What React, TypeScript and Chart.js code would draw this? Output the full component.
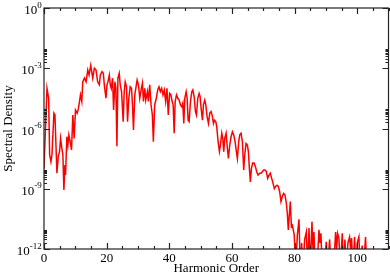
import React, { useEffect, useRef } from "react";
import { Chart, registerables } from "chart.js";

Chart.register(...registerables);

// Harmonic order (x) and spectral density (y)
const harmonic = [
  0, 0.95, 1.48, 1.8, 2.22, 2.54, 3.17, 3.49, 4.13, 4.55, 4.97, 5.29, 5.71, 6.03, 6.35, 6.67, 6.88, 7.3, 7.62, 7.94,
  8.36, 8.78, 9.21, 9.63, 10.05, 10.58, 11.0, 11.32, 11.64, 12.06, 12.38, 12.91, 13.44, 13.97, 14.39, 14.92, 15.24, 15.56, 16.08, 16.61,
  17.14, 17.67, 17.99, 18.52, 18.94, 19.26, 19.79, 20.11, 20.42, 20.85, 21.16, 21.48, 21.9, 22.22, 22.65, 22.96, 23.28, 23.6, 24.02, 24.34,
  24.76, 25.29, 25.61, 25.93, 26.35, 26.67, 27.09, 27.51, 27.94, 28.25, 28.57, 28.99, 29.31, 29.74, 30.16, 30.58, 31.0, 31.43, 31.75, 32.17,
  32.49, 33.02, 33.33, 33.76, 34.18, 34.6, 34.92, 35.34, 35.87, 36.3, 36.72, 37.14, 37.57, 37.99, 38.41, 38.84, 39.26, 39.68, 40.11, 40.53,
  40.92, 41.24, 41.56, 41.88, 42.31, 42.73, 43.16, 43.58, 44.01, 44.32, 44.64, 44.96, 45.39, 45.71, 46.02, 46.34, 46.77, 47.19, 47.51, 47.94,
  48.36, 48.68, 49.11, 49.53, 49.85, 50.17, 50.6, 50.91, 51.34, 51.66, 52.08, 52.51, 52.93, 53.36, 53.78, 54.1, 54.42, 54.85, 55.16, 55.59,
  56.01, 56.33, 56.76, 57.08, 57.4, 57.71, 58.14, 58.46, 58.88, 59.31, 59.73, 60.16, 60.58, 61.01, 61.43, 61.75, 62.18, 62.5, 62.92, 63.35,
  63.77, 64.09, 64.52, 64.94, 65.26, 65.58, 65.9, 66.22, 66.64, 67.07, 67.49, 67.92, 68.34, 68.87, 69.3, 69.72, 70.15, 70.57, 71.0, 71.42,
  71.85, 72.27, 72.7, 73.12, 73.55, 73.97, 74.4, 74.82, 75.25, 75.67, 76.1, 76.52, 76.95, 77.37, 77.69, 78.01, 78.33, 78.65, 79.0, 79.3,
  79.9, 80.36, 80.9, 81.42, 81.85, 82.27, 82.7, 83.23, 83.76, 84.18, 84.61, 85.03, 85.56, 85.88, 86.2, 86.63, 87.16, 87.8, 88.1, 88.43,
  88.86, 89.5, 90.13, 90.56, 91.2, 91.73, 92.47, 93.11, 93.43, 93.75, 94.17, 94.6, 95.24, 95.66, 96.09, 96.51, 97.04, 97.57, 97.89, 98.21,
  98.64, 99.17, 99.6, 100.02, 100.55, 100.97, 101.6, 102.03, 102.67, 103.09, 103.5,
];

const density = [
  1.0e-8, 1e-4, 3.2e-5, 4.8e-8, 2.2e-8, 4.8e-8, 5.8e-6, 4.7e-6, 5.9e-9, 4e-8, 7.1e-8, 3.2e-7, 1e-7, 4.8e-8, 8.7e-10, 1.5e-8, 4.8e-9, 3.9e-7, 1.5e-7, 4.8e-7,
  2.2e-7, 8.5e-8, 4.7e-6, 3.2e-7, 8.3e-6, 5.8e-6, 1e-5, 2.2e-5, 4.7e-5, 2.2e-5, 2.1e-4, 3.2e-4, 2.1e-4, 8.1e-4, 4.6e-4, 1.4e-3, 6.8e-4, 3.2e-4, 1e-3, 8.1e-4,
  2.1e-4, 1.5e-4, 4.6e-4, 6.8e-4, 5.6e-4, 1.5e-4, 3.2e-5, 1.5e-4, 2.1e-4, 4.6e-4, 1.5e-4, 1e-4, 3.2e-4, 8.3e-6, 2.1e-4, 1e-4, 1.3e-7, 3.2e-4, 5.6e-4, 1.5e-4,
  6.8e-5, 2.2e-6, 6.8e-5, 2.1e-4, 1.2e-4, 2.2e-6, 3.2e-5, 1.2e-4, 1e-4, 1.5e-5, 8.5e-7, 4.7e-5, 1e-4, 2.6e-4, 1.5e-4, 3.2e-5, 8.3e-5, 1.8e-4, 2.2e-5, 1e-4,
  2.6e-5, 6.8e-5, 2.2e-5, 1.5e-4, 1.5e-5, 4.7e-6, 2.2e-7, 1.5e-5, 3.2e-5, 8.3e-5, 1.2e-4, 6.8e-5, 1e-4, 4.7e-5, 8.3e-5, 2.2e-5, 1e-4, 4.7e-6, 5.6e-5, 4.7e-5,
  2.2e-5, 1.5e-5, 5.8e-7, 2.2e-5, 4.7e-5, 3.2e-5, 2.6e-5, 1.5e-5, 1.2e-5, 1.8e-5, 1.8e-6, 3.2e-5, 6.8e-5, 3.2e-5, 2.6e-6, 2.2e-6, 2.2e-5, 6.8e-5, 8.3e-5, 3.9e-5,
  6.9e-6, 4.7e-6, 3.2e-5, 5.6e-5, 3.9e-5, 1e-5, 2.6e-6, 1.5e-5, 2.6e-5, 1.5e-5, 3.9e-6, 1.8e-6, 5.8e-6, 6.9e-6, 3.9e-6, 1.8e-6, 2.6e-6, 2.2e-6, 1.2e-6, 2.2e-7,
  7.1e-8, 1.5e-7, 5.8e-7, 3.2e-7, 7.1e-8, 3.2e-7, 5.8e-7, 1.5e-7, 3.2e-8, 1.5e-7, 3.9e-7, 6.9e-7, 4.8e-7, 2.2e-7, 7.1e-8, 3.2e-8, 2.2e-7, 4.8e-7, 5.8e-7, 2.2e-7,
  8.5e-9, 4.8e-8, 1.8e-7, 1.5e-7, 7.1e-8, 1e-8, 2.2e-9, 1e-8, 1.9e-8, 1.9e-8, 1.3e-8, 7.1e-9, 4.8e-9, 5.9e-9, 5.9e-9, 7.1e-9, 8.5e-9, 8.5e-9, 7.1e-9, 3.3e-9,
  4.8e-9, 5.9e-9, 3.3e-9, 1.9e-9, 1e-9, 1.3e-9, 1.5e-9, 1.3e-9, 7.1e-10, 2.3e-10, 4.1e-10, 5.9e-10, 4.9e-10, 1.9e-10, 6e-11, 9e-12, 4.9e-11, 2.3e-10, 1.3e-11, 1.5e-11,
  5e-12, 1e-13, 5e-12, 3e-11, 1e-13, 2e-12, 1e-13, 3e-12, 7e-12, 1e-13, 1.1e-11, 1e-13, 2.3e-11, 1e-12, 7e-12, 1e-13, 1e-13, 9e-12, 2e-12, 6e-12,
  1e-13, 1e-13, 2.3e-12, 1e-13, 3e-12, 1e-13, 1e-13, 7e-12, 1e-12, 6e-12, 3.5e-12, 1e-13, 6e-12, 1e-13, 3e-12, 1e-13, 2e-12, 4e-12, 1e-12, 3.5e-12,
  1e-13, 4e-12, 1e-13, 2e-12, 4e-12, 1e-13, 1.5e-12, 1e-13, 4e-12, 1e-13, 1e-13,
];

const xMajorTicks = [0, 20, 40, 60, 80, 100];
const xMinorStep = 5;
const xRange = [0, 110];
const yDecades = [-12, -9, -6, -3, 0];
const yRange = [1e-12, 1];
const xTitle = "Harmonic Order";
const yTitle = "Spectral Density";

const FONT = '"Liberation Serif", "Times New Roman", serif';

const framePlugin = {
  id: "graceFrame",
  afterDraw(chart: any) {
    const { ctx, chartArea: a, scales } = chart;
    const xs = scales.x;
    const ys = scales.y;
    ctx.save();
    ctx.strokeStyle = "#222";
    ctx.lineWidth = 1.2;
    ctx.strokeRect(a.left, a.top, a.right - a.left, a.bottom - a.top);

    ctx.beginPath();
    // x ticks
    for (let v = xRange[0]; v <= xRange[1]; v += xMinorStep) {
      const px = Math.round(xs.getPixelForValue(v)) + 0.5;
      const major = xMajorTicks.includes(v);
      const len = major ? 6 : 3;
      ctx.moveTo(px, a.bottom);
      ctx.lineTo(px, a.bottom - len);
      ctx.moveTo(px, a.top);
      ctx.lineTo(px, a.top + len);
    }
    // y ticks
    yDecades.forEach((d) => {
      const base = Math.pow(10, d);
      const py = Math.round(ys.getPixelForValue(base)) + 0.5;
      ctx.moveTo(a.left, py);
      ctx.lineTo(a.left + 6, py);
      ctx.moveTo(a.right, py);
      ctx.lineTo(a.right - 6, py);
      if (d < 0) {
        for (let k = 2; k <= 9; k++) {
          const my = Math.round(ys.getPixelForValue(k * base)) + 0.5;
          ctx.moveTo(a.left, my);
          ctx.lineTo(a.left + 3, my);
          ctx.moveTo(a.right, my);
          ctx.lineTo(a.right - 3, my);
        }
      }
    });
    ctx.stroke();

    // x tick labels
    ctx.fillStyle = "#000";
    ctx.font = `13px ${FONT}`;
    ctx.textAlign = "center";
    ctx.textBaseline = "top";
    xMajorTicks.forEach((v) => {
      ctx.fillText(String(v), xs.getPixelForValue(v), 252);
    });

    // y tick labels with superscript exponents
    ctx.textBaseline = "alphabetic";
    const rightEdge = a.left - 2.3;
    yDecades.forEach((d) => {
      const py = ys.getPixelForValue(Math.pow(10, d));
      const exp = String(d);
      ctx.font = `9px ${FONT}`;
      const ew = ctx.measureText(exp).width;
      ctx.textAlign = "right";
      ctx.fillText(exp, rightEdge, py + 6 - 6.5);
      ctx.font = `13px ${FONT}`;
      ctx.fillText("10", rightEdge - ew, py + 6);
    });

    // axis titles
    ctx.font = `13px ${FONT}`;
    ctx.textAlign = "center";
    ctx.fillText(xTitle, (a.left + a.right) / 2, 272);
    ctx.translate(12, (a.top + a.bottom) / 2);
    ctx.rotate(-Math.PI / 2);
    ctx.fillText(yTitle, 0, 0);
    ctx.restore();
  },
};

export default function App() {
  const ref = useRef<HTMLCanvasElement | null>(null);
  useEffect(() => {
    if (!ref.current) return;
    const chart = new Chart(ref.current, {
      type: "line",
      data: {
        datasets: [
          {
            data: harmonic.map((h, i) => ({ x: h, y: density[i] })),
            borderColor: "#ff0000",
            borderWidth: 1.5,
            pointRadius: 0,
            tension: 0,
            fill: false,
          },
        ],
      },
      options: {
        responsive: false,
        animation: false,
        layout: { padding: { left: 44, top: 8, right: 1.5, bottom: 26 } },
        plugins: { legend: { display: false }, tooltip: { enabled: false } },
        scales: {
          x: { type: "linear", min: xRange[0], max: xRange[1], display: false },
          y: { type: "logarithmic", min: yRange[0], max: yRange[1], display: false },
        },
      },
      plugins: [framePlugin],
    });
    return () => chart.destroy();
  }, []);
  return (
    <div style={{ position: "fixed", left: 0, top: 0, width: 390, height: 275, background: "#fff" }}>
      <canvas ref={ref} width={390} height={275} style={{ display: "block" }} />
    </div>
  );
}
